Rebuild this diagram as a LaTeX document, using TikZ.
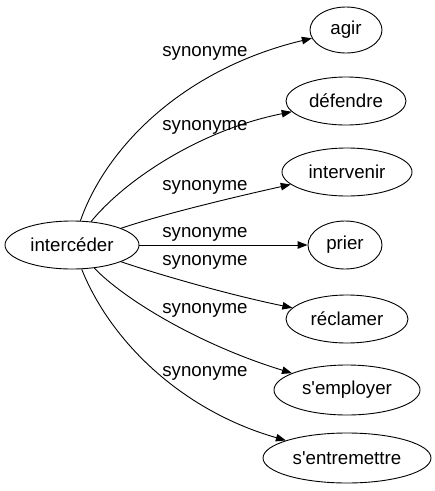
\documentclass[tikz,border=0pt]{standalone}
\usepackage{fontspec}
\newfontfamily\libsans{Liberation Sans}
\usetikzlibrary{shapes.geometric,arrows.meta}
\begin{document}
\begin{tikzpicture}[x=1pt,y=-1pt,
  every node/.style={font=\libsans\fontsize{18.7}{22}\selectfont},
  word/.style={ellipse,draw,line width=0.9pt,inner sep=0pt},
  lab/.style={inner sep=0pt},
  arr/.style={line width=0.9pt,-{Triangle[length=10pt,width=7.5pt]}}]
\useasboundingbox (0,0) rectangle (435,491);
\node[word,minimum width=134pt,minimum height=48pt] (c) at (72,245) {intercéder};
\node[word,minimum width=72pt,minimum height=46pt] (agir) at (346,30) {agir};
\node[word,minimum width=120pt,minimum height=48pt] (defendre) at (346,101) {défendre};
\node[word,minimum width=130pt,minimum height=48pt] (intervenir) at (347,172) {intervenir};
\node[word,minimum width=74pt,minimum height=48pt] (prier) at (345,245) {prier};
\node[word,minimum width=122pt,minimum height=48pt] (reclamer) at (347,319) {réclamer};
\node[word,minimum width=146pt,minimum height=50pt] (semployer) at (347,390) {s'employer};
\node[word,minimum width=168pt,minimum height=50pt] (sentremettre) at (347,458) {s'entremettre};
\draw[arr] (c) .. controls (105,150) and (180,70) .. (agir);
\draw[arr] (c) .. controls (125,180) and (200,130) .. (defendre);
\draw[arr] (c) .. controls (160,215) and (230,198) .. (intervenir);
\draw[arr] (c) -- (prier);
\draw[arr] (c) .. controls (160,275) and (230,295) .. (reclamer);
\draw[arr] (c) .. controls (125,300) and (200,345) .. (semployer);
\draw[arr] (c) .. controls (110,340) and (180,410) .. (sentremettre);
\node[lab] (l1) at (205,53) {synonyme};
\node[lab] (l2) at (205,127) {synonyme};
\node[lab] (l3) at (205,187) {synonyme};
\node[lab] (l4) at (205,234) {synonyme};
\node[lab] (l5) at (205,262) {synonyme};
\node[lab] (l6) at (205,310) {synonyme};
\node[lab] (l7) at (205,373) {synonyme};
\end{tikzpicture}
\end{document}
